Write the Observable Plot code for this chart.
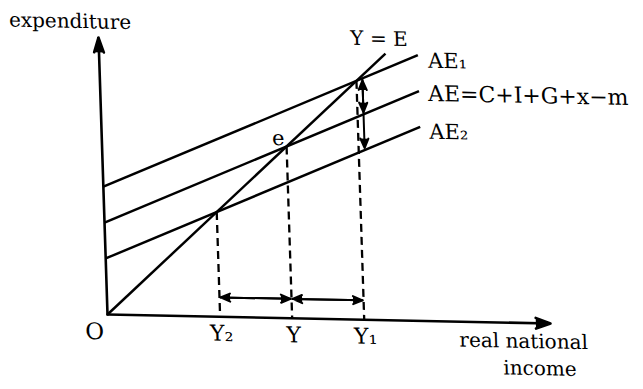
<!DOCTYPE html>
<html><head><meta charset="utf-8">
<script src="https://cdn.jsdelivr.net/npm/d3@7"></script>
<script src="https://cdn.jsdelivr.net/npm/@observablehq/plot@0.6"></script>
<style>
html,body{margin:0;padding:0;background:#fff;}
#chart svg{display:block;}
</style></head><body><div id="chart"></div>
<script>
// ---- values (abstract diagram units) ----
const aeNames = ["AE₁", "AE=C+I+G+x−m", "AE₂"];
const aeIntercepts = [31, 22.3, 13.6];
const aeSlope = 0.465;
const aeEndX = 72;
const guideEndX = 64.7;          // end of the Y = E line
const guideName = "Y = E";
const incomeNames = ["Y₁", "Y", "Y₂"];
const equilibriumName = "e";
const originName = "O";
const xAxisEnd = 100;
const yAxisEnd = 67.2;
const yAxisTitle = "expenditure";
const xAxisTitle = ["real national", "income"];
const incomeArrowLevel = [4.7];  // height of the horizontal arrows
const shiftArrowX = [59.3];      // x of the vertical arrows

// ---- derived tables ----
const ae = aeNames.map((name, i) => ({
  name, x1: 0, y1: aeIntercepts[i], x2: aeEndX, y2: aeIntercepts[i] + aeSlope * aeEndX
}));
const aeAt = (i, x) => aeIntercepts[i] + aeSlope * x;
const eq = aeIntercepts.map((a, i) => {
  const x = a / (1 - aeSlope);
  return {name: incomeNames[i], x, y: x, y0: 0};
});
const sorted = [...eq].sort((a, b) => a.x - b.x);
const hArrows = [];
for (let i = 0; i < sorted.length - 1; i++) {
  const y = incomeArrowLevel[0];
  hArrows.push({x1: sorted[i].x, x2: sorted[i + 1].x, y1: y, y2: y});
  hArrows.push({x1: sorted[i + 1].x, x2: sorted[i].x, y1: y, y2: y});
}
const sx = shiftArrowX[0];
const vDouble = [
  {x1: sx, x2: sx, y1: aeAt(1, sx), y2: aeAt(0, sx)},
  {x1: sx, x2: sx, y1: aeAt(0, sx), y2: aeAt(1, sx)}
];
const vSingle = [{x1: sx, x2: sx, y1: aeAt(1, sx), y2: aeAt(2, sx)}];

const ink = "#000";
const font = "DejaVu Serif";
const seg = {x1: "x1", y1: "y1", x2: "x2", y2: "y2"};

const chart = Plot.plot({
  width: 643, height: 389,
  marginLeft: 107, marginRight: 93, marginTop: 37, marginBottom: 75,
  x: {domain: [0, xAxisEnd], axis: null},
  y: {domain: [0, yAxisEnd], axis: null},
  style: {background: "#fff", overflow: "visible"},
  marks: [
    // axes with arrowheads
    Plot.arrow([{x1: 0, y1: 0, x2: 0, y2: yAxisEnd}], {...seg, stroke: ink, fill: ink, strokeWidth: 2.6, headAngle: 36, headLength: 9, bend: 0}),
    Plot.arrow([{x1: 0, y1: 0, x2: xAxisEnd, y2: 0}], {...seg, stroke: ink, fill: ink, strokeWidth: 2.6, headAngle: 40, headLength: 9, bend: 0}),
    // 45-degree line Y = E
    Plot.link([{x1: 0, y1: 0, x2: guideEndX, y2: guideEndX}], {...seg, stroke: ink, strokeWidth: 2.4}),
    // aggregate expenditure lines
    Plot.link(ae, {...seg, stroke: ink, strokeWidth: 2.4}),
    // dashed drop lines
    Plot.link(eq, {x1: "x", x2: "x", y1: "y", y2: "y0", stroke: ink, strokeWidth: 2.3, strokeDasharray: "8,5"}),
    // income change arrows
    Plot.arrow(hArrows, {...seg, stroke: ink, fill: ink, strokeWidth: 2, headAngle: 46, headLength: 7.8, insetStart: 1, insetEnd: 1, bend: 0}),
    Plot.arrow(vDouble, {...seg, stroke: ink, fill: ink, strokeWidth: 2, headAngle: 46, headLength: 7.8, insetStart: 1, insetEnd: 2, bend: 0}),
    Plot.arrow(vSingle, {...seg, stroke: ink, fill: ink, strokeWidth: 2, headAngle: 46, headLength: 7.8, insetStart: 1, insetEnd: 2, bend: 0}),
    // labels
    Plot.text([ae[0]], {x: "x2", y: "y2", text: "name", textAnchor: "start", dx: 10, dy: 5.6, fontSize: 21, fontFamily: font, fill: ink}),
    Plot.text([ae[1]], {x: "x2", y: "y2", text: "name", textAnchor: "start", dx: 9, dy: 2.6, fontSize: 22, fontFamily: font, fill: ink}),
    Plot.text([ae[2]], {x: "x2", y: "y2", text: "name", textAnchor: "start", dx: 9, dy: 4.9, fontSize: 21, fontFamily: font, fill: ink}),
    Plot.text([{x: guideEndX, y: guideEndX, t: guideName}], {x: "x", y: "y", text: "t", dx: -6, dy: -14.5, fontSize: 20, fontFamily: font, fill: ink}),
    Plot.text([eq[1]], {x: "x", y: "y", text: () => equilibriumName, dx: -8, dy: -8, fontSize: 21, fontFamily: font, fill: ink}),
    Plot.text(eq, {x: "x", y: "y0", text: "name", dx: 1, dy: 17, fontSize: 22, fontFamily: font, fill: ink}),
    Plot.text([{x: 0, y: 0, t: originName}], {x: "x", y: "y", text: "t", dx: -13.5, dy: 17.5, fontSize: 23, fontFamily: font, fill: ink}),
    Plot.text([{x: 0, y: yAxisEnd, t: yAxisTitle}], {x: "x", y: "y", text: "t", dx: -28, dy: -15.5, fontSize: 20, fontFamily: font, fill: ink}),
    Plot.text([{x: xAxisEnd, y: 0, t: xAxisTitle[0]}], {x: "x", y: "y", text: "t", dx: -27.5, dy: 18.5, fontSize: 20, fontFamily: font, fill: ink}),
    Plot.text([{x: xAxisEnd, y: 0, t: xAxisTitle[1]}], {x: "x", y: "y", text: "t", dx: -12, dy: 45.5, fontSize: 20, fontFamily: font, fill: ink})
  ]
});
// the printed figure is slightly skewed: tilt the axes the same way
chart.style.transformOrigin = "107px 314px";
chart.style.transform = "matrix(1, 0.0203, 0.0325, 1, 0, 0)";
document.getElementById("chart").appendChild(chart);
</script>
</body></html>
